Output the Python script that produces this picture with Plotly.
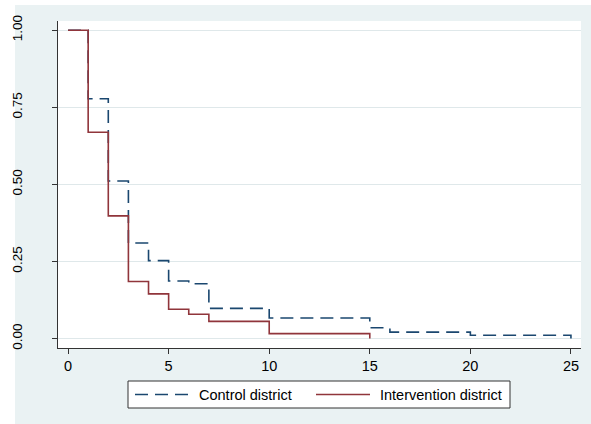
import plotly.graph_objects as go

# ---- data ----
control_time = [0, 1, 2, 3, 4, 5, 6, 7, 10, 15, 16, 20, 25]
control_surv = [1.00, 0.778, 0.511, 0.310, 0.253, 0.187, 0.178, 0.098, 0.067, 0.035, 0.021, 0.011, 0.0]
interv_time = [0, 1, 2, 3, 4, 5, 6, 7, 10, 15]
interv_surv = [1.00, 0.669, 0.398, 0.185, 0.145, 0.095, 0.079, 0.056, 0.016, 0.0]
x_ticks = [0, 5, 10, 15, 20, 25]
y_ticks = [0.0, 0.25, 0.5, 0.75, 1.0]
y_ticktext = ["0.00", "0.25", "0.50", "0.75", "1.00"]
series_names = ["Control district", "Intervention district"]

NAVY = "#1A476F"
MAROON = "#90353B"
BG = "#EAF2F3"
GRID = "#DFE8EA"
FONT = "Liberation Sans, Arial, sans-serif"

W, H = 591, 424
L, R, T, B = 58, 10, 21, 76
PW = W - L - R
PH = H - T - B

def px(x):
    return (x - L) / PW

def py(y):
    return (H - B - y) / PH

fig = go.Figure()
fig.add_trace(go.Scatter(x=control_time, y=control_surv, mode="lines", line_shape="hv",
                         name=series_names[0],
                         line=dict(color=NAVY, width=1.6, dash="13px,7px")))
fig.add_trace(go.Scatter(x=interv_time, y=interv_surv, mode="lines", line_shape="hv",
                         name=series_names[1],
                         line=dict(color=MAROON, width=1.6)))

shapes = [
    # outer graph region
    dict(type="rect", xref="paper", yref="paper", x0=px(15), x1=px(W + 2), y0=py(5), y1=py(H + 2),
         fillcolor=BG, line=dict(width=0), layer="below"),
    # plot region
    dict(type="rect", xref="paper", yref="paper", x0=0, x1=1, y0=0, y1=1,
         fillcolor="white", line=dict(width=0), layer="below"),
    # legend box
    dict(type="rect", xref="paper", yref="paper", x0=px(128), x1=px(510), y0=py(408), y1=py(381),
         fillcolor="white", line=dict(color="#333333", width=1), layer="above"),
    dict(type="line", xref="paper", yref="paper", x0=px(135), x1=px(189), y0=py(394.5), y1=py(394.5),
         line=dict(color=NAVY, width=1.6, dash="13px,7px"), layer="above"),
    dict(type="line", xref="paper", yref="paper", x0=px(316), x1=px(370), y0=py(394.5), y1=py(394.5),
         line=dict(color=MAROON, width=1.6), layer="above"),
]

annotations = [
    dict(text=series_names[0], xref="paper", yref="paper", x=px(197), y=py(394.5),
         xanchor="left", yanchor="middle", showarrow=False,
         font=dict(family=FONT, size=14.5, color="#000000")),
    dict(text=series_names[1], xref="paper", yref="paper", x=px(378), y=py(394.5),
         xanchor="left", yanchor="middle", showarrow=False,
         font=dict(family=FONT, size=14.5, color="#000000")),
]

fig.update_layout(
    width=W, height=H,
    margin=dict(l=L, r=R, t=T, b=B, pad=0),
    paper_bgcolor="white",
    plot_bgcolor="rgba(0,0,0,0)",
    showlegend=False,
    shapes=shapes,
    annotations=annotations,
    font=dict(family=FONT, size=14.5, color="#000000"),
    xaxis=dict(range=[-0.5, 25.5], tickvals=x_ticks, ticks="outside", ticklen=5,
               tickcolor="#333333", showline=True, linecolor="#333333", linewidth=1,
               showgrid=False, zeroline=False, ticklabelstandoff=0, automargin=False,
               tickfont=dict(family=FONT, size=14.5, color="#000000")),
    yaxis=dict(range=[-0.0305, 1.030], tickvals=y_ticks, ticktext=y_ticktext, tickangle=-90,
               ticks="outside", ticklen=5, tickcolor="#333333", showline=True,
               linecolor="#333333", linewidth=1, showgrid=True, gridcolor=GRID, gridwidth=1,
               zeroline=False, ticklabelstandoff=25, automargin=False,
               tickfont=dict(family=FONT, size=13.5, color="#000000")),
)

fig.write_html("out.html")
